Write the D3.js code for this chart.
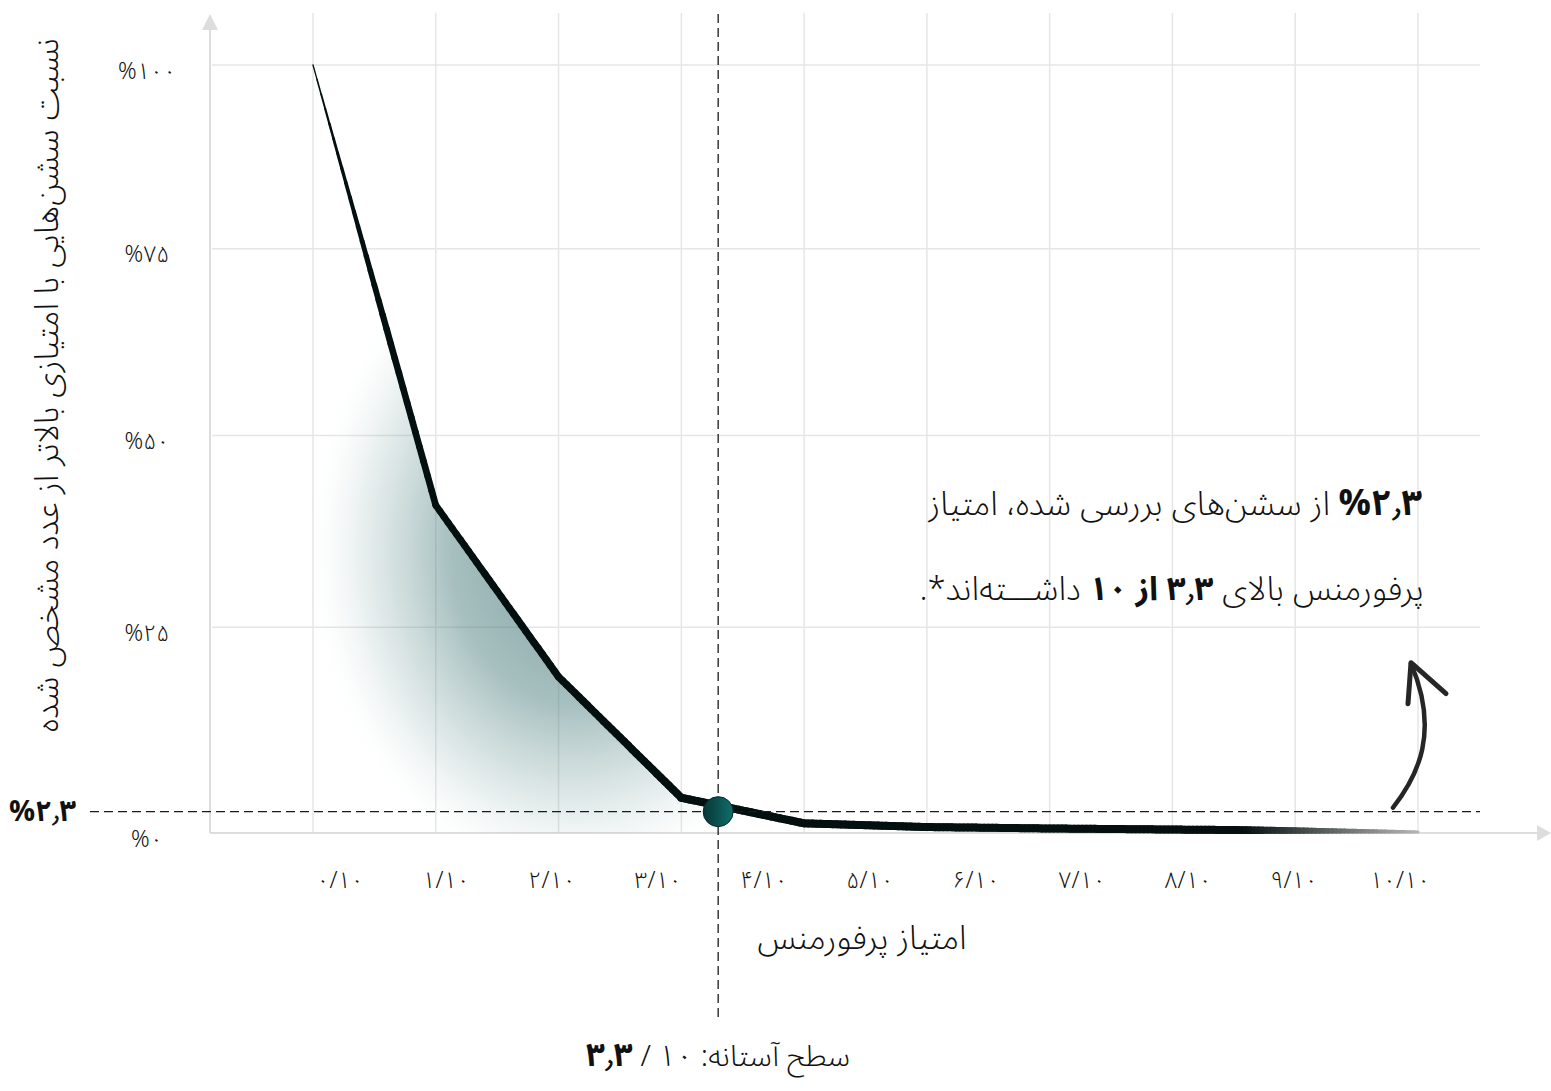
<!DOCTYPE html>
<html lang="fa">
<head>
<meta charset="utf-8">
<script src="https://cdn.jsdelivr.net/npm/d3@7/dist/d3.min.js"></script>
<style>
  html, body { margin: 0; padding: 0; background: #ffffff; }
  svg { display: block; }
  text { font-family: 'Noto Sans Arabic', 'Vazirmatn', 'DejaVu Sans', sans-serif; fill: #111; }
</style>
</head>
<body>
<svg id="chart" width="1551" height="1091"></svg>
<script>
// ---- data ----
const scoreLabels = ["۰/۱۰", "۱/۱۰", "۲/۱۰", "۳/۱۰", "۴/۱۰", "۵/۱۰", "۶/۱۰", "۷/۱۰", "۸/۱۰", "۹/۱۰", "۱۰/۱۰"];
const curveScores = [0, 1, 2, 3, 4, 5, 6, 7, 8, 9];
const shareAbove  = [100, 40.8, 18.7, 3.9, 1.0, 0.6, 0.45, 0.34, 0.24, 0.1];
const yTickValues = [0, 25, 50, 75, 100];
const yTickLabels = ["%۰", "%۲۵", "%۵۰", "%۷۵", "%۱۰۰"];
const thresholdScore = 3.3;
const thresholdShare = 2.3;
const thresholdShareLabel = "%۲٫۳";

// ---- layout ----
const W = 1551, H = 1091;
const svg = d3.select("#chart");
svg.append("rect").attr("width", W).attr("height", H).attr("fill", "#fff");

const x = d3.scaleLinear().domain([0, 9]).range([313, 1418]);
const y = d3.scalePow().exponent(0.95).domain([0, 100]).range([833, 65]);
const xLabel = d3.scalePoint().domain(scoreLabels).range([340, 1400]);

const axisX = 210, gridTop = 13, gridRight = 1480;
const defs = svg.append("defs");

// ---- grid ----
const grid = svg.append("g").attr("stroke", "#e6e6e6").attr("stroke-width", 1.5);
grid.selectAll("line.v").data(curveScores).join("line")
  .attr("x1", d => x(d)).attr("x2", d => x(d))
  .attr("y1", gridTop).attr("y2", y(0));
grid.selectAll("line.h").data(yTickValues.filter(d => d > 0)).join("line")
  .attr("x1", axisX + 2).attr("x2", gridRight)
  .attr("y1", d => y(d)).attr("y2", d => y(d));

// ---- axes with arrow heads ----
const axisCol = "#dddddd";
svg.append("line").attr("x1", axisX).attr("x2", axisX).attr("y1", 28).attr("y2", y(0))
  .attr("stroke", axisCol).attr("stroke-width", 2);
svg.append("path").attr("d", `M${axisX},14 L${axisX - 8},30 L${axisX + 8},30 Z`).attr("fill", axisCol);
svg.append("line").attr("x1", axisX).attr("x2", 1540).attr("y1", y(0)).attr("y2", y(0))
  .attr("stroke", axisCol).attr("stroke-width", 2);
svg.append("path").attr("d", `M${W},${y(0)} L${W - 14},${y(0) - 8} L${W - 14},${y(0) + 8} Z`).attr("fill", axisCol);

// ---- shaded area under the curve, up to the threshold ----
const thrIndex = Math.floor(thresholdScore);
const thrFrac = thresholdScore - thrIndex;
const thrCurveY = d3.interpolateNumber(y(shareAbove[thrIndex]), y(shareAbove[thrIndex + 1]))(thrFrac);
const areaPts = curveScores.slice(0, thrIndex + 1).map(i => [x(i), y(shareAbove[i])]);
areaPts.push([x(thresholdScore), thrCurveY]);

// elliptical glow: narrower than tall
const gcx = x(2.13), gcy = y(35);
const rg = defs.append("radialGradient").attr("id", "shade")
  .attr("gradientUnits", "userSpaceOnUse")
  .attr("cx", gcx).attr("cy", gcy).attr("r", 340)
  .attr("gradientTransform", `translate(${gcx},${gcy}) scale(0.8,1) translate(${-gcx},${-gcy})`);
rg.append("stop").attr("offset", "0%").attr("stop-color", "#2f6666").attr("stop-opacity", 0.62);
rg.append("stop").attr("offset", "45%").attr("stop-color", "#3a7070").attr("stop-opacity", 0.45);
rg.append("stop").attr("offset", "80%").attr("stop-color", "#5a8a8a").attr("stop-opacity", 0.12);
rg.append("stop").attr("offset", "100%").attr("stop-color", "#ffffff").attr("stop-opacity", 0);

svg.append("path")
  .attr("d", d3.area().x(d => d[0]).y0(y(0)).y1(d => d[1])(areaPts))
  .attr("fill", "url(#shade)");

// ---- tapered curve ----
const lineG = svg.append("g").attr("stroke-linecap", "round").attr("fill", "none");
const steps = 30;
const widthAt = t => {
  if (t < 0.6) return 1.2 + 5.3 * (t / 0.6);
  if (t < 3) return 6.5 + 1.5 * ((t - 0.6) / 2.4);
  if (t < 7.5) return 8;
  return 8 - 5 * ((t - 7.5) / 1.5);
};
const colorAt = t => t < 7.6 ? "#041010" : d3.interpolateRgb("#041010", "#b5b5b5")(Math.min(1, (t - 7.6) / 1.4));
const segs = [];
for (let i = 0; i < curveScores.length - 1; i++) {
  const p0 = [x(curveScores[i]), y(shareAbove[i])];
  const p1 = [x(curveScores[i + 1]), y(shareAbove[i + 1])];
  for (let j = 0; j < steps; j++) {
    const a = j / steps, b = (j + 1) / steps;
    segs.push({
      x1: p0[0] + (p1[0] - p0[0]) * a, y1: p0[1] + (p1[1] - p0[1]) * a,
      x2: p0[0] + (p1[0] - p0[0]) * b, y2: p0[1] + (p1[1] - p0[1]) * b,
      t: i + (a + b) / 2
    });
  }
}
lineG.selectAll("line").data(segs).join("line")
  .attr("x1", d => d.x1).attr("y1", d => d.y1)
  .attr("x2", d => d.x2).attr("y2", d => d.y2)
  .attr("stroke", d => colorAt(d.t))
  .attr("stroke-width", d => widthAt(d.t));

// ---- threshold guides ----
const tx = x(thresholdScore), ty = y(thresholdShare);
svg.append("line").attr("x1", tx).attr("x2", tx).attr("y1", 14).attr("y2", 1022)
  .attr("stroke", "#1a1a1a").attr("stroke-width", 1.3).attr("stroke-dasharray", "9,5");
svg.append("line").attr("x1", 90).attr("x2", gridRight).attr("y1", ty).attr("y2", ty)
  .attr("stroke", "#1a1a1a").attr("stroke-width", 1.3).attr("stroke-dasharray", "9,5");

const dg = defs.append("linearGradient").attr("id", "dotFill").attr("x1", "0%").attr("x2", "100%");
dg.append("stop").attr("offset", "0%").attr("stop-color", "#073636");
dg.append("stop").attr("offset", "100%").attr("stop-color", "#0f6f6c");
svg.append("circle").attr("cx", tx).attr("cy", ty).attr("r", 15)
  .attr("fill", "url(#dotFill)").attr("stroke", "#052a2a").attr("stroke-width", 1);

// ---- hand-drawn arrow pointing at the note ----
const ax = x(9), ay = ty;
const arrow = svg.append("g").attr("fill", "none").attr("stroke", "#262626")
  .attr("stroke-linecap", "round").attr("stroke-linejoin", "round");
arrow.append("path")
  .attr("d", `M${ax - 25},${ay - 4} C${ax},${ay - 36} ${ax + 22},${ay - 80} ${ax - 7},${ay - 148}`)
  .attr("stroke-width", 4.5);
arrow.append("path")
  .attr("d", `M${ax - 10},${ay - 108} L${ax - 7},${ay - 149} L${ax + 28},${ay - 118}`)
  .attr("stroke-width", 5);

// ---- tick labels ----
svg.append("g").selectAll("text").data(yTickValues).join("text")
  .attr("x", 147).attr("y", d => y(d) + 6)
  .attr("text-anchor", "middle").attr("dominant-baseline", "central")
  .attr("direction", "ltr")
  .attr("font-size", 23).attr("font-weight", 300)
  .text((d, i) => yTickLabels[i]);

svg.append("g").selectAll("text").data(scoreLabels).join("text")
  .attr("x", d => xLabel(d)).attr("y", 880)
  .attr("text-anchor", "middle").attr("dominant-baseline", "central")
  .attr("direction", "ltr")
  .attr("font-size", 23).attr("font-weight", 300)
  .text(d => d);

svg.append("text").attr("x", 9).attr("y", ty)
  .attr("dominant-baseline", "central").attr("direction", "ltr")
  .attr("font-size", 29).attr("font-weight", 700)
  .text(thresholdShareLabel);

// ---- axis titles ----
svg.append("text")
  .attr("transform", "translate(47,385) rotate(-90)")
  .attr("text-anchor", "middle").attr("dominant-baseline", "central")
  .attr("direction", "rtl")
  .attr("font-size", 33).attr("font-weight", 300)
  .text("نسبت سشن‌هایی با امتیازی بالاتر از عدد مشخص شده");

svg.append("text").attr("x", 862).attr("y", 938)
  .attr("text-anchor", "middle").attr("dominant-baseline", "central")
  .attr("direction", "rtl")
  .attr("font-size", 33).attr("font-weight", 300)
  .text("امتیاز پرفورمنس");

// ---- note ----
const note1 = svg.append("text").attr("x", 1422).attr("y", 515)
  .attr("direction", "rtl").attr("text-anchor", "start")
  .attr("font-size", 33).attr("font-weight", 300);
note1.append("tspan").attr("font-weight", 700).attr("font-size", 36).text("%۲٫۳");
note1.append("tspan").text(" از سشن‌های بررسی شده، امتیاز");

const note2 = svg.append("text").attr("x", 1424).attr("y", 600)
  .attr("direction", "rtl").attr("text-anchor", "start")
  .attr("font-size", 33).attr("font-weight", 300);
note2.append("tspan").text("پرفورمنس بالای ");
note2.append("tspan").attr("font-weight", 700).text("۳٫۳ از ۱۰");
note2.append("tspan").text(" داشـــته‌اند*.");

// ---- threshold caption ----
const cap = svg.append("text").attr("x", tx).attr("y", 1066)
  .attr("direction", "rtl").attr("text-anchor", "middle")
  .attr("font-size", 30).attr("font-weight", 300);
cap.append("tspan").text("سطح آستانه: ۱۰ / ");
cap.append("tspan").attr("font-weight", 700).attr("font-size", 33).text("۳٫۳");
</script>
</body>
</html>
